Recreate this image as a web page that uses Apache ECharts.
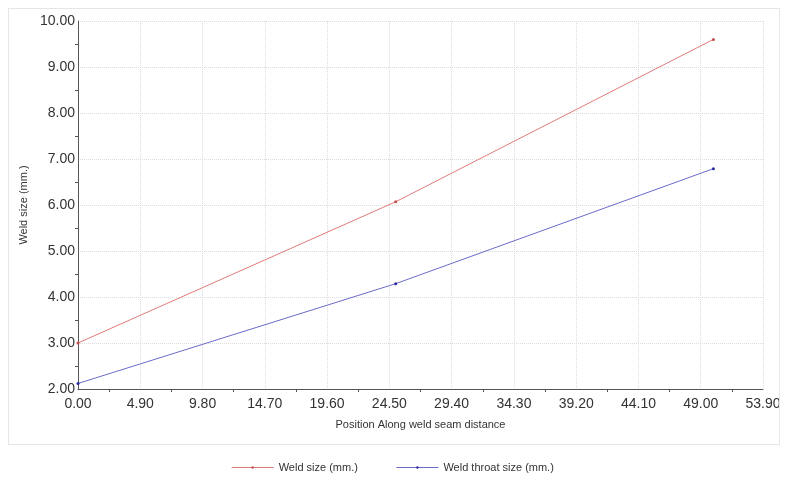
<!DOCTYPE html>
<html><head><meta charset="utf-8">
<script src="https://cdn.jsdelivr.net/npm/echarts@6/dist/echarts.min.js"></script>
<style>html,body{margin:0;padding:0;background:#fff}#c{width:785px;height:482px}
#box{position:absolute;left:8px;top:8px;width:772px;height:437px;border:1px solid #e6e6e6;box-sizing:border-box;pointer-events:none}</style>
</head><body><div id="c"></div><div id="box"></div>
<script>
const positions = [0, 25, 50];
const weldSize = [3.0, 6.07, 9.6];
const throatSize = [2.12, 4.29, 6.79];
const seriesNames = ['Weld size (mm.)', 'Weld throat size (mm.)'];
const xTitle = 'Position Along weld seam distance';
const yTitle = 'Weld size (mm.)';

const chart = echarts.init(document.getElementById('c'));
const font = 'Liberation Sans, Arial, sans-serif';
chart.setOption({
  animation: false,
  grid: {left: 78, right: 22, top: 21, bottom: 93},
  legend: {
    bottom: 4, left: 'center', itemWidth: 42, itemHeight: 3, itemGap: 38,
    lineStyle: {width: 1},
    textStyle: {fontFamily: font, fontSize: 11, color: '#333'},
    data: seriesNames
  },
  xAxis: {
    type: 'value', min: 0, max: 53.9, interval: 4.9,
    name: xTitle, nameLocation: 'middle', nameGap: 30,
    nameTextStyle: {fontFamily: font, fontSize: 11, color: '#333'},
    axisLine: {lineStyle: {color: '#555', width: 1}},
    axisTick: {show: false},
    minorTick: {show: true, splitNumber: 2, length: 3, lineStyle: {color: '#555'}},
    axisLabel: {fontFamily: font, fontSize: 14, color: '#333', formatter: v => v.toFixed(2), margin: 8},
    splitLine: {show: true, lineStyle: {color: '#dcdcdc', type: 'dotted'}}
  },
  yAxis: {
    type: 'value', min: 2, max: 10, interval: 1,
    name: yTitle, nameLocation: 'middle', nameGap: 46, nameRotate: 90,
    nameTextStyle: {fontFamily: font, fontSize: 11, color: '#333'},
    axisLine: {show: true, lineStyle: {color: '#555', width: 1}},
    axisTick: {show: false},
    minorTick: {show: true, splitNumber: 2, length: 3, lineStyle: {color: '#555'}},
    axisLabel: {fontFamily: font, fontSize: 14, color: '#333', formatter: v => v.toFixed(2), margin: 3},
    splitLine: {show: true, lineStyle: {color: '#dcdcdc', type: 'dotted'}}
  },
  series: [
    {name: seriesNames[0], type: 'line', data: positions.map((x, i) => [x, weldSize[i]]),
     lineStyle: {width: 1, color: '#e07a7a'}, symbol: 'circle', symbolSize: 3,
     itemStyle: {color: '#c05050'}},
    {name: seriesNames[1], type: 'line', data: positions.map((x, i) => [x, throatSize[i]]),
     lineStyle: {width: 1, color: '#6a6ac8'}, symbol: 'circle', symbolSize: 3,
     itemStyle: {color: '#2a2aa0'}}
  ]
});
</script></body></html>
